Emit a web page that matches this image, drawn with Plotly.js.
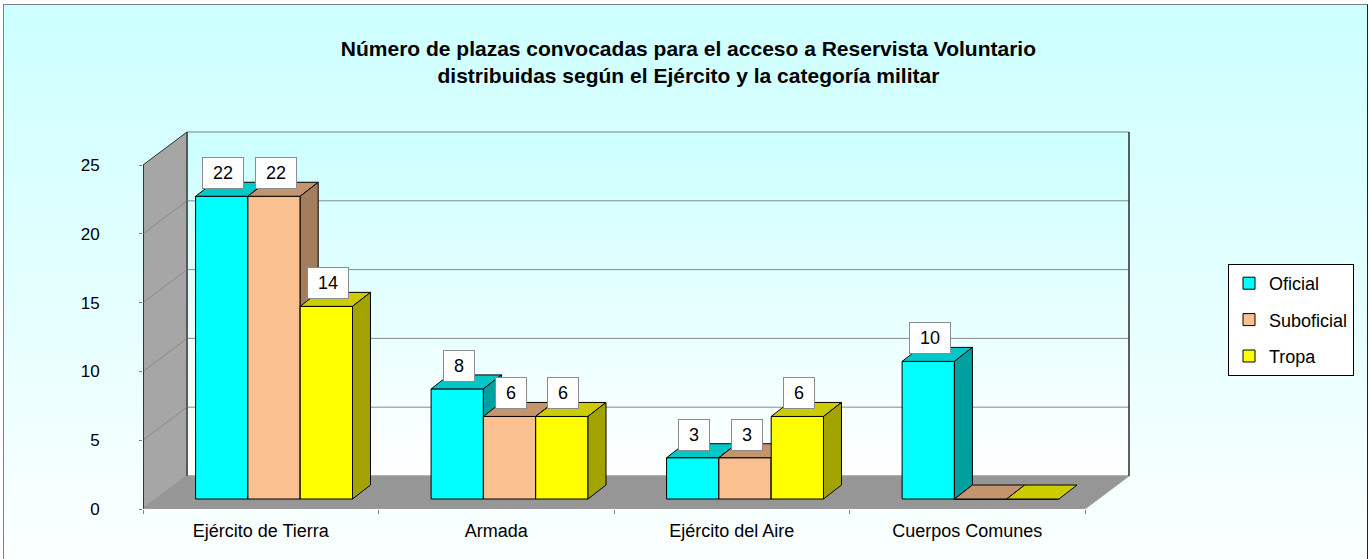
<!DOCTYPE html>
<html>
<head>
<meta charset="utf-8">
<script src="https://cdn.plot.ly/plotly-3.0.1.min.js"></script>
<style>
  html, body { margin:0; padding:0; width:1370px; height:559px; overflow:hidden; background:#ffffff; }
  #frame { position:absolute; left:3px; top:4px; width:1363px; height:600px;
           border-left:1px solid #808080; border-top:1px solid #808080; border-right:1px solid #202020;
           background: linear-gradient(to bottom, #ccffff 0%, #ffffff 100%); }
  #chart { position:absolute; left:0; top:0; width:1370px; height:559px; }
</style>
</head>
<body>
<div id="frame"></div>
<div id="chart"></div>
<script>
// ---- data ----
const categories = ['Ejército de Tierra', 'Armada', 'Ejército del Aire', 'Cuerpos Comunes'];
const seriesNames = ['Oficial', 'Suboficial', 'Tropa'];
const oficial    = [22, 8, 3, 10];
const suboficial = [22, 6, 3, 0];
const tropa      = [14, 6, 6, 0];
const yTickVals  = [0, 5, 10, 15, 20, 25];
const titleText  = 'Número de plazas convocadas para el acceso a Reservista Voluntario<br>distribuidas según el Ejército y la categoría militar';

// ---- styles / geometry ----
const FONT = '"Liberation Sans", Arial, sans-serif';
const frontColors = ['#00ffff', '#fac090', '#ffff00'];
const topColors   = ['#00c8c8', '#c4946c', '#cccc00'];
const sideColors  = ['#00a0a0', '#a47d5d', '#a3a300'];

const W = 1370, H = 559;
const axLeftPx = 143, axBottomPx = 509;
const PX_X = 235.5, PX_Y = 13.76;
const XMAX = 4.25, YMAX = 28;
const wallDX = 44 / PX_X, wallDY = 33 / PX_Y;
const barDX0 = 13.3 / PX_X, barDY0 = 10 / PX_Y;
const depDX = 18 / PX_X, depDY = 14 / PX_Y;
const barW = 52.3 / PX_X;
const nCat = categories.length;

const seriesVals = [oficial, suboficial, tropa];
const traces = [];

function poly(pts, fill, line, axisIdx, extra) {
  const t = {
    type: 'scatter', mode: 'lines', fill: 'toself', fillcolor: fill,
    x: pts.map(p => p[0]).concat([pts[0][0]]),
    y: pts.map(p => p[1]).concat([pts[0][1]]),
    line: { color: line, width: 1 },
    hoverinfo: 'skip', showlegend: false,
    xaxis: axisIdx === 1 ? 'x' : 'x' + axisIdx,
    yaxis: axisIdx === 1 ? 'y' : 'y' + axisIdx
  };
  return Object.assign(t, extra || {});
}
function seg(pts, color, axisIdx) {
  return {
    type: 'scatter', mode: 'lines',
    x: pts.map(p => p[0]), y: pts.map(p => p[1]),
    line: { color: color, width: 1 }, hoverinfo: 'skip', showlegend: false,
    xaxis: axisIdx === 1 ? 'x' : 'x' + axisIdx,
    yaxis: axisIdx === 1 ? 'y' : 'y' + axisIdx
  };
}

// ---- walls & floor (subplot 1) ----
const yTop = yTickVals[yTickVals.length - 1];
traces.push(poly([[wallDX, wallDY], [nCat + wallDX, wallDY], [nCat + wallDX, yTop + wallDY], [wallDX, yTop + wallDY]],
  '#ccffff', '#808080', 1,
  { fillgradient: { type: 'vertical', colorscale: [[0, '#ffffff'], [1, '#ccffff']] } }));
traces.push(poly([[0, 0], [0, yTop], [wallDX, yTop + wallDY], [wallDX, wallDY]], '#a6a6a6', '#303030', 1));
traces.push(poly([[0, 0], [nCat, 0], [nCat + wallDX, wallDY], [wallDX, wallDY]], '#969696', '#a0a0a0', 1));
yTickVals.slice(1, -1).forEach(v => {
  traces.push(seg([[0, v], [wallDX, v + wallDY], [nCat + wallDX, v + wallDY]], '#8a8a8a', 1));
});
traces.push(seg([[nCat + wallDX, wallDY], [nCat + wallDX, yTop + wallDY]], '#000000', 1));
traces.push(seg([[wallDX, wallDY], [wallDX, yTop + wallDY]], '#404040', 1));
traces.push(seg([[0, 0], [0, yTop]], '#000000', 1));

// ---- bars (one overlaid subplot per series so faces stack correctly) ----
const annotations = [];
seriesVals.forEach((vals, k) => {
  const ax = k + 2;
  const xc = vals.map((v, i) => i + 0.5 + barDX0 + (k - 1) * barW);
  traces.push({
    type: 'bar', name: seriesNames[k], x: xc, y: vals,
    base: vals.map(() => barDY0), width: barW,
    marker: { color: frontColors[k], line: { color: '#000000', width: 1 } },
    hoverinfo: 'skip', legendgroup: 'g' + k,
    xaxis: 'x' + ax, yaxis: 'y' + ax
  });
  vals.forEach((v, i) => {
    const xl = xc[i] - barW / 2, xr = xc[i] + barW / 2;
    const b = barDY0, t = barDY0 + v;
    traces.push(poly([[xl, t], [xr, t], [xr + depDX, t + depDY], [xl + depDX, t + depDY]], topColors[k], '#000000', ax));
    if (v > 0) {
      traces.push(poly([[xr, b], [xr + depDX, b + depDY], [xr + depDX, t + depDY], [xr, t]], sideColors[k], '#000000', ax));
      const s = String(v);
      annotations.push({
        x: xc[i] + 1.5 / PX_X, y: t + 7 / PX_Y, xref: 'x', yref: 'y',
        xanchor: 'center', yanchor: 'bottom', showarrow: false,
        text: s, font: { family: FONT, size: 18, color: '#000000' },
        bgcolor: '#ffffff', bordercolor: '#8c8c8c', borderwidth: 1, borderpad: 4,
        width: s.length > 1 ? 32 : 22, height: 22
      });
    }
  });
});

const xDomain = [axLeftPx / W, (axLeftPx + XMAX * PX_X) / W];
const yDomain = [(H - axBottomPx) / H, (H - axBottomPx + YMAX * PX_Y) / H];

const layout = {
  width: W, height: H,
  margin: { l: 0, r: 0, t: 0, b: 0 },
  paper_bgcolor: 'rgba(0,0,0,0)', plot_bgcolor: 'rgba(0,0,0,0)',
  font: { family: FONT, size: 16, color: '#000000' },
  barmode: 'overlay',
  title: {
    text: titleText, x: 0.5025, xanchor: 'center', y: 1 - 56 / H, yanchor: 'middle',
    font: { family: FONT, size: 21, weight: 'bold', color: '#000000' }
  },
  xaxis: {
    domain: xDomain, range: [0, XMAX], showgrid: false, zeroline: false, showline: false,
    tickvals: categories.map((c, i) => i + 0.5), ticktext: categories, ticks: '',
    ticklabelstandoff: 9, tickfont: { family: FONT, size: 18, color: '#000000' },
    minor: { tickvals: categories.map((c, i) => i).concat([nCat]), ticks: 'outside', ticklen: 4, tickcolor: '#808080', showgrid: false },
    fixedrange: true
  },
  yaxis: {
    domain: yDomain, range: [0, YMAX], showgrid: false, zeroline: false, showline: false,
    tickvals: yTickVals, ticks: 'outside', ticklen: 3, tickcolor: '#808080',
    ticklabelstandoff: 36, tickfont: { family: FONT, size: 17, color: '#000000' },
    fixedrange: true
  },
  showlegend: true,
  legend: {
    x: 1228 / W, xanchor: 'left', y: (H - 264) / H, yanchor: 'top',
    bgcolor: '#ffffff', bordercolor: '#000000', borderwidth: 1,
    font: { family: FONT, size: 18, color: '#000000' },
    tracegroupgap: 10, itemwidth: 30, traceorder: 'grouped'
  },
  annotations: annotations
};
for (let a = 2; a <= 4; a++) {
  layout['xaxis' + a] = { overlaying: 'x', anchor: 'y' + a, range: [0, XMAX], visible: false, fixedrange: true };
  layout['yaxis' + a] = { overlaying: 'y', anchor: 'x' + a, range: [0, YMAX], visible: false, fixedrange: true };
}

Plotly.newPlot('chart', traces, layout, { staticPlot: true, displayModeBar: false });
</script>
</body>
</html>
